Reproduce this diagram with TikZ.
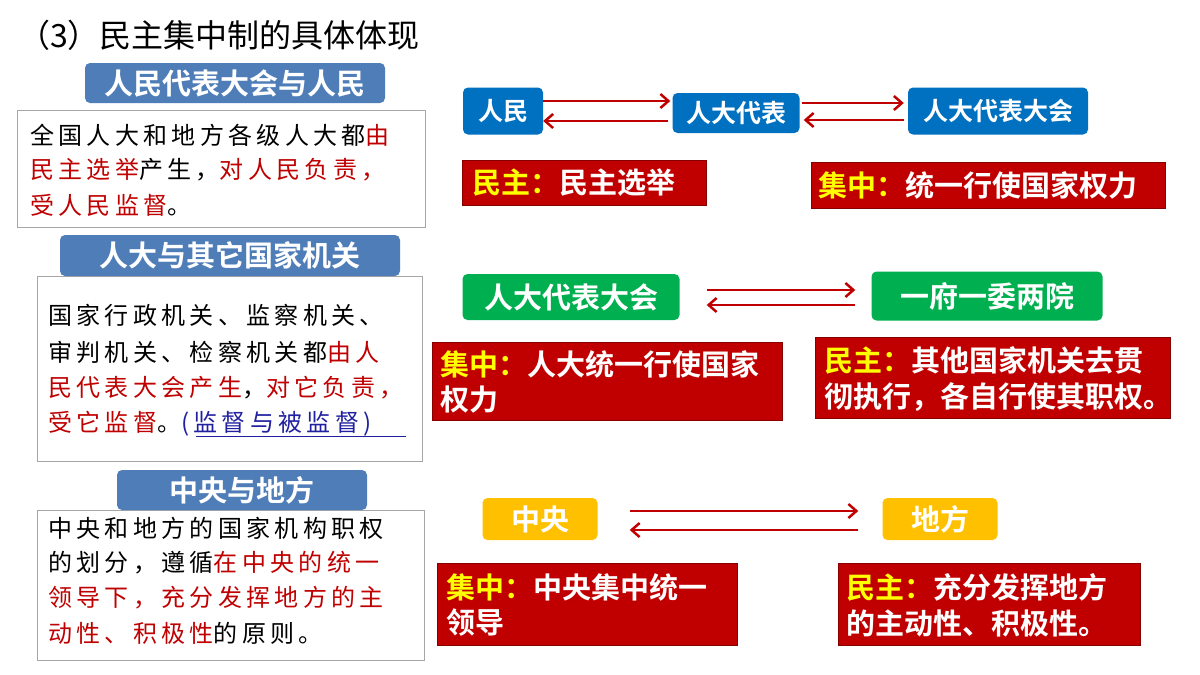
\documentclass[tikz,border=0pt]{standalone}
\usepackage{fontspec}
\usetikzlibrary{arrows.meta}
\setmainfont{Noto Sans CJK SC}
\newfontfamily\cjkb{Noto Sans CJK SC Bold}
\newfontfamily\cjks[LetterSpace=18]{Noto Sans CJK SC}
\definecolor{hb}{HTML}{4F7DB8}
\definecolor{bb}{HTML}{0070C0}
\definecolor{rd}{HTML}{C00000}
\definecolor{gr}{HTML}{00B050}
\definecolor{yl}{HTML}{FFC000}
\definecolor{yt}{HTML}{FFFF00}
\definecolor{lk}{HTML}{2020A0}
\begin{document}
\begin{tikzpicture}[x=1pt,y=-1pt,
 tbox/.style={draw=black!35,line width=1pt},
 ln/.style={anchor=west,inner sep=0pt,font=\cjks\fontsize{24}{24}\selectfont},
 hdt/.style={text=white,font=\cjkb\fontsize{29}{29}\selectfont},
 bbx/.style={fill=bb,rounded corners=5pt,text=white,font=\cjkb\fontsize{25}{25}\selectfont},
 cbx/.style={rounded corners=5pt,text=white,font=\cjkb\fontsize{29}{29}\selectfont},
 rbx/.style={fill=rd,draw=rd!70!black},
 rt/.style={anchor=west,inner sep=0pt,text=white,font=\cjkb\fontsize{29}{29}\selectfont},
 arr/.style={draw=rd,line width=2.5pt,-{Straight Barb[length=8pt,width=14pt]}}]
\useasboundingbox (0,0) rectangle (1200,675);
\fill[white] (0,0) rectangle (1200,675);
\node[anchor=west,inner sep=0pt,font=\fontsize{32}{32}\selectfont] (title) at (18,35) {（3）民主集中制的具体体现};
% left boxes
\draw[tbox] (17,110) rectangle (425,227);
\fill[hb,rounded corners=5pt] (85,63) rectangle (385,103);
\node[hdt] (h1) at (235,83) {人民代表大会与人民};
\node[ln] (a1) at (30,135) {全国人大和地方各级人大都\textcolor{rd}{由}};
\node[ln] (a2) at (30,170) {\textcolor{rd}{民主选举}产生，\textcolor{rd}{对人民负责，}};
\node[ln] (a3) at (30,205) {\textcolor{rd}{受人民监督}。};
\draw[tbox] (37,276) rectangle (422,461);
\fill[hb,rounded corners=5pt] (60,235) rectangle (400,276);
\node[hdt] (h2) at (230,255) {人大与其它国家机关};
\node[ln] (b1) at (48,315) {国家行政机关、监察机关、};
\node[ln] (b2) at (48,352) {审判机关、检察机关都\textcolor{rd}{由人}};
\node[ln] (b3) at (48,388) {\textcolor{rd}{民代表大会产生}，\textcolor{rd}{对它负责，}};
\node[ln] (b4) at (48,424) {\textcolor{rd}{受它监督}。\textcolor{lk}{(监督与被监督)}};
\draw[lk,line width=1pt] (196,436) -- (406,436);
\draw[tbox] (37,510) rectangle (424,660);
\fill[hb,rounded corners=5pt] (117,470) rectangle (367,510);
\node[hdt] (h3) at (242,490) {中央与地方};
\node[ln] (c1) at (48,528) {中央和地方的国家机构职权};
\node[ln] (c2) at (48,563) {的划分，遵循\textcolor{rd}{在中央的统一}};
\node[ln] (c3) at (48,598) {\textcolor{rd}{领导下，充分发挥地方的主}};
\node[ln] (c4) at (48,633) {\textcolor{rd}{动性、积极性}的原则。};
% row 1
\node[bbx,minimum width=80pt,minimum height=47pt] (rm) at (503,111) {人民};
\node[bbx,minimum width=127pt,minimum height=40pt] (db) at (736,113) {人大代表};
\node[bbx,minimum width=180pt,minimum height=47pt] (dh) at (998,111) {人大代表大会};
\draw[arr] ([yshift=10pt]rm.east) -- ([yshift=12pt,xshift=-2pt]db.west);
\draw[arr] ([yshift=-8pt,xshift=-4pt]db.west) -- ([yshift=-10pt]rm.east);
\draw[arr] ([yshift=10pt,xshift=2pt]db.east) -- ([yshift=8pt,xshift=-4pt]dh.west);
\draw[arr] ([yshift=-9pt,xshift=-4pt]dh.west) -- ([yshift=-7pt,xshift=4pt]db.east);
\draw[rbx] (462,160) rectangle (706,205);
\node[rt] (r1) at (472,183) {\textcolor{yt}{民主：}民主选举};
\draw[rbx] (811,162) rectangle (1165,208);
\node[rt] (r2) at (818,185) {\textcolor{yt}{集中：}统一行使国家权力};
% row 2
\node[cbx,fill=gr,minimum width=217pt,minimum height=46pt] (g1) at (571,297) {人大代表大会};
\node[cbx,fill=gr,minimum width=231pt,minimum height=49pt] (g2) at (987,296) {一府一委两院};
\draw[arr] ([xshift=27pt,yshift=7pt]g1.east) -- ([xshift=-16pt,yshift=6pt]g2.west);
\draw[arr] ([xshift=-16pt,yshift=-9pt]g2.west) -- ([xshift=27pt,yshift=-8pt]g1.east);
\draw[rbx] (432,342) rectangle (782,420);
\node[rt] (r3) at (440,364) {\textcolor{yt}{集中：}人大统一行使国家};
\node[rt] (r3b) at (440,400) {权力};
\draw[rbx] (815,337) rectangle (1170,418);
\node[rt] (r4) at (824,360) {\textcolor{yt}{民主：}其他国家机关去贯};
\node[rt] (r4b) at (824,397) {彻执行，各自行使其职权。};
% row 3
\node[cbx,fill=yl,minimum width=115pt,minimum height=42pt] (y1) at (540,519) {中央};
\node[cbx,fill=yl,minimum width=115pt,minimum height=42pt] (y2) at (940,519) {地方};
\draw[arr] ([xshift=32pt,yshift=8pt]y1.east) -- ([xshift=-24pt,yshift=8pt]y2.west);
\draw[arr] ([xshift=-24pt,yshift=-11pt]y2.west) -- ([xshift=32pt,yshift=-11pt]y1.east);
\draw[rbx] (437,563) rectangle (737,645);
\node[rt] (r5) at (446,587) {\textcolor{yt}{集中：}中央集中统一};
\node[rt] (r5b) at (446,623) {领导};
\draw[rbx] (838,563) rectangle (1140,645);
\node[rt] (r6) at (846,587) {\textcolor{yt}{民主：}充分发挥地方};
\node[rt] (r6b) at (846,623) {的主动性、积极性。};
\end{tikzpicture}
\end{document}
